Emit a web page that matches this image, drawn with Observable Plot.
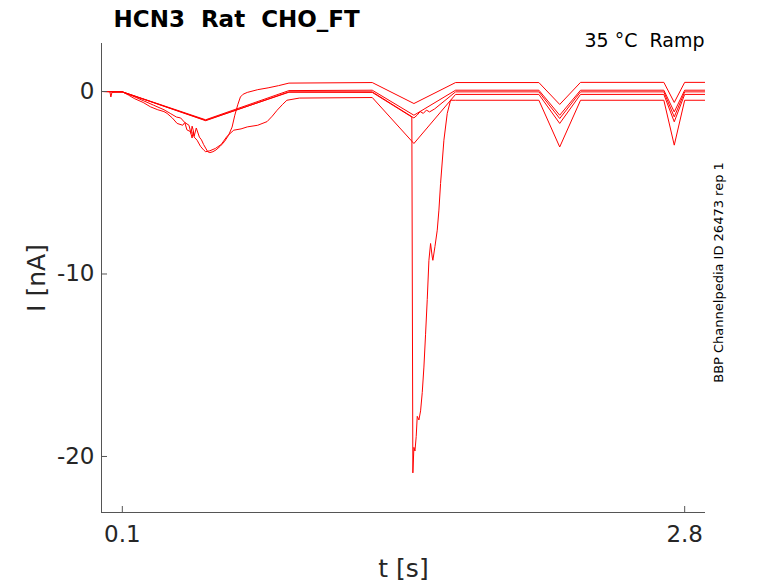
<!DOCTYPE html>
<html><head><meta charset="utf-8">
<script src="https://cdn.jsdelivr.net/npm/d3@7"></script>
<script src="https://cdn.jsdelivr.net/npm/@observablehq/plot@0.6"></script>
<style>
body{margin:0;background:#fff;}
svg text{white-space:pre;}
</style></head><body><div id="chart"></div>
<script>
// Sweep 1: deep first dip, fast recovery, top level afterwards
const t1 = [0, 0.04, 0.045, 0.05, 0.1, 0.15, 0.2, 0.25, 0.3, 0.33, 0.36, 0.38, 0.40, 0.42, 0.43, 0.435, 0.44, 0.445, 0.455, 0.47, 0.48, 0.49, 0.5, 0.51, 0.52, 0.535, 0.55, 0.57, 0.59, 0.61, 0.627, 0.64, 0.655, 0.667, 0.68, 0.70, 0.75, 0.8, 0.85, 0.9, 1.3, 1.5, 1.7, 2.1, 2.2, 2.3, 2.7, 2.75, 2.8, 2.9];
const i1 = [0, 0, -0.3, -0.05, -0.02, -0.25, -0.5, -0.75, -1.0, -1.2, -1.4, -1.45, -1.7, -1.85, -2.3, -1.9, -2.1, -2.45, -2.0, -2.5, -2.65, -2.9, -3.1, -3.3, -3.35, -3.3, -3.2, -3.0, -2.75, -2.4, -1.95, -1.3, -0.7, -0.3, -0.15, -0.05, 0.1, 0.2, 0.32, 0.46, 0.49, -0.66, 0.49, 0.49, -0.71, 0.5, 0.5, -0.6, 0.5, 0.5];
// Sweep 2: shallow, upper middle level
const t2 = [0, 0.1, 0.5, 0.9, 1.3, 1.5, 1.7, 2.1, 2.2, 2.3, 2.7, 2.75, 2.8, 2.9];
const i2 = [0, -0.02, -1.55, 0.05, 0.07, -1.3, 0.07, 0.07, -1.3, 0.07, 0.07, -1.12, 0.07, 0.07];
// Sweep 3: shallow, lower middle level
const t3 = [0, 0.1, 0.5, 0.9, 1.3, 1.5, 1.515, 1.53, 1.545, 1.56, 1.575, 1.6, 1.7, 2.1, 2.2, 2.3, 2.7, 2.75, 2.8, 2.9];
const i3 = [0, -0.02, -1.6, -0.02, -0.02, -1.45, -1.3, -1.1, -1.2, -1.02, -1.12, -0.95, -0.02, -0.02, -1.48, -0.02, -0.02, -1.39, -0.02, -0.02];
// Sweep 4: deep first dip, slow recovery
const t4 = [0, 0.1, 0.13, 0.16, 0.2, 0.235, 0.27, 0.3, 0.315, 0.34, 0.363, 0.39, 0.40, 0.41, 0.427, 0.435, 0.44, 0.445, 0.459, 0.475, 0.49, 0.5, 0.52, 0.547, 0.575, 0.603, 0.635, 0.67, 0.7, 0.75, 0.795, 0.82, 0.843, 0.87, 0.89, 0.95, 1.3, 1.5, 1.7, 2.1, 2.2, 2.3, 2.7, 2.75, 2.8, 2.9];
const i4 = [0, -0.02, -0.2, -0.4, -0.6, -0.84, -1.0, -1.1, -1.2, -1.45, -1.75, -1.85, -1.7, -2.1, -2.2, -2.55, -2.2, -2.5, -2.67, -3.0, -3.2, -3.3, -3.25, -3.12, -2.9, -2.45, -2.12, -2.05, -1.94, -1.85, -1.65, -1.35, -1.03, -0.7, -0.48, -0.36, -0.33, -2.85, -0.16, -0.16, -1.75, -0.16, -0.16, -1.66, -0.16, -0.16];
// Sweep 5: large inward spike in the second ramp
const t5 = [0, 0.1, 0.5, 0.9, 1.3, 1.49, 1.495, 1.5, 1.505, 1.511, 1.516, 1.524, 1.532, 1.54, 1.548, 1.556, 1.564, 1.572, 1.58, 1.588, 1.591, 1.601, 1.612, 1.62, 1.628, 1.644, 1.66, 1.676, 1.7, 2.1, 2.2, 2.3, 2.7, 2.75, 2.8, 2.9];
const i5 = [0, -0.02, -1.58, -0.04, -0.05, -1.4, -20.9, -19.5, -19.7, -18.9, -17.8, -18.0, -17.5, -16.5, -15.1, -13.3, -11.4, -9.25, -8.33, -9.07, -9.25, -8.5, -7.6, -6.5, -5.04, -2.67, -1.2, -0.48, -0.48, -0.48, -3.04, -0.48, -0.48, -2.94, -0.48, -0.48];

const xTicks = [0.1, 2.8];
const yTicks = [0, -10, -20];
const xDomain = [0, 2.9];
const yDomain = [-23.07, 2.63];
const titleText = "HCN3  Rat  CHO_FT";
const condText = "35 °C  Ramp";
const sourceText = "BBP Channelpedia ID 26473 rep 1";
const xLabel = "t [s]";
const yLabel = "I [nA]";

const traces = [[t1, i1], [t2, i2], [t3, i3], [t4, i4], [t5, i5]];
const data = traces.flatMap(([ts, is], k) => ts.map((t, j) => ({t, i: is[j], sweep: k})));

const chart = Plot.plot({
  width: 778, height: 583,
  marginLeft: 101, marginRight: 73, marginTop: 43, marginBottom: 71,
  style: {fontFamily: "DejaVu Sans", background: "#fff", overflow: "visible"},
  x: {domain: xDomain},
  y: {domain: yDomain},
  marks: [
    Plot.line(data, {x: "t", y: "i", z: "sweep", stroke: "#ff0000", strokeWidth: 1, clip: true}),
    Plot.ruleX([xDomain[0]], {stroke: "#555", strokeWidth: 1}),
    Plot.ruleY([yDomain[0]], {stroke: "#555", strokeWidth: 1}),
    Plot.axisX({ticks: xTicks, tickSize: -6, tickPadding: 19, fontSize: 23, label: null, stroke: "#555", fill: "#262626", tickFormat: d => d.toFixed(1)}),
    Plot.axisY({ticks: yTicks, tickSize: -6, tickPadding: 13, fontSize: 23, label: null, stroke: "#555", fill: "#262626", tickFormat: d => String(d)}),
    Plot.text([titleText], {frameAnchor: "top-left", dx: 12, dy: -16.3, textAnchor: "start", lineAnchor: "bottom", fontSize: 23, fontWeight: "bold", fill: "#000"}),
    Plot.text([condText], {frameAnchor: "top-right", dx: -1, dy: 3.7, textAnchor: "end", lineAnchor: "bottom", fontSize: 19, fill: "#000"}),
    Plot.text([sourceText], {frameAnchor: "right", dx: 17, dy: -5.5, rotate: -90, textAnchor: "middle", lineAnchor: "bottom", fontSize: 13, fill: "#000"}),
    Plot.text([yLabel], {frameAnchor: "left", dx: -57, rotate: -90, textAnchor: "middle", lineAnchor: "bottom", fontSize: 25, fill: "#262626"}),
    Plot.text([xLabel], {frameAnchor: "bottom", dy: 64, textAnchor: "middle", lineAnchor: "bottom", fontSize: 25, fill: "#262626"})
  ]
});
document.getElementById("chart").appendChild(chart);
</script></body></html>
